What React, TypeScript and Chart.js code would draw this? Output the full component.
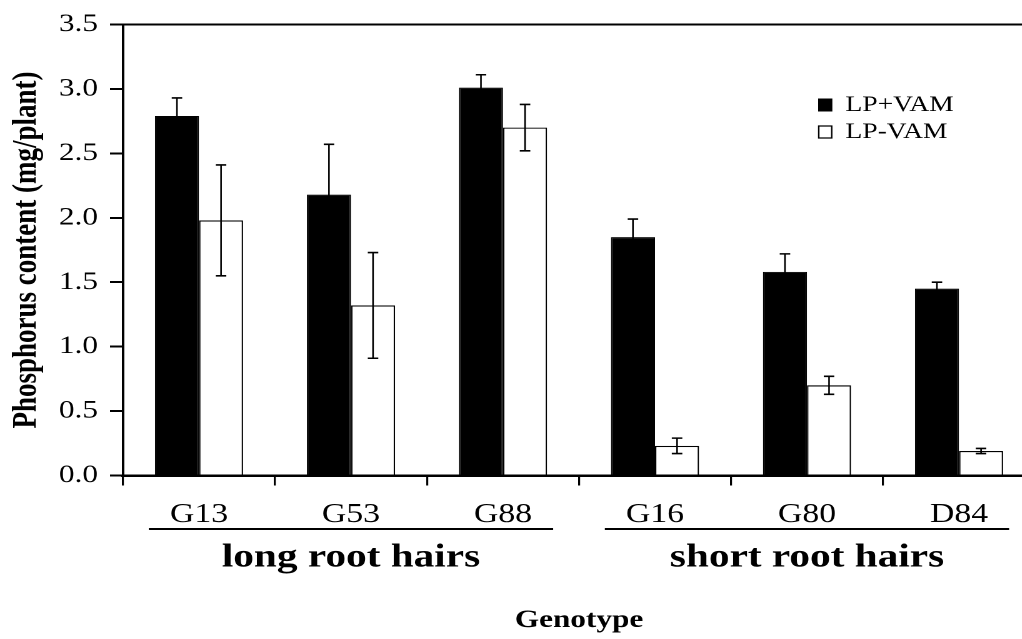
import React, { useEffect, useRef } from 'react';
import { Chart, registerables } from 'chart.js';

Chart.register(...registerables);

// ---- data ----
const genotypes = ['G13', 'G53', 'G88', 'G16', 'G80', 'D84'];
const groupLabels = ['long root hairs', 'short root hairs'];
const groupFirst = [0, 3];
const groupLast = [2, 5];
const seriesNames = ['LP+VAM', 'LP-VAM'];
const lpPlusVam = [2.79, 2.18, 3.01, 1.85, 1.58, 1.45];
const lpPlusVamErr = [0.14, 0.39, 0.1, 0.14, 0.14, 0.05];
const lpMinusVam = [1.98, 1.32, 2.7, 0.23, 0.7, 0.19];
const lpMinusVamErr = [0.43, 0.41, 0.18, 0.06, 0.07, 0.02];
const yMin = 0;
const yMax = 3.5;
const yStep = 0.5;

const SERIF = '"Liberation Serif", "Times New Roman", serif';
const SX = 1.25; // horizontal stretch of the original figure
const INNER_W = 840;
const H = 639;

const extras = {
  id: 'extras',
  afterLayout(chart: any) {
    const lg = chart.legend;
    if (lg) {
      const w = lg.width;
      const h = lg.height;
      lg.left = 650;
      lg.top = 89;
      lg.right = 650 + w;
      lg.bottom = 89 + h;
    }
  },
  afterDatasetsDraw(chart: any) {
    const ctx = chart.ctx;
    const ys = chart.scales.y;
    const errs = [lpPlusVamErr, lpMinusVamErr];
    ctx.save();
    ctx.strokeStyle = '#000';
    chart.data.datasets.forEach((ds: any, di: number) => {
      const meta = chart.getDatasetMeta(di);
      meta.data.forEach((bar: any, i: number) => {
        const v = ds.data[i];
        const e = errs[di][i];
        const x = bar.x;
        const yt = ys.getPixelForValue(v + e);
        const yb = ys.getPixelForValue(v - e);
        ctx.lineWidth = 1.3;
        ctx.beginPath();
        ctx.moveTo(x, yt);
        ctx.lineTo(x, yb);
        ctx.stroke();
        ctx.lineWidth = 1.6;
        ctx.beginPath();
        ctx.moveTo(x - 4.2, yt);
        ctx.lineTo(x + 4.2, yt);
        ctx.moveTo(x - 4.2, yb);
        ctx.lineTo(x + 4.2, yb);
        ctx.stroke();
      });
    });
    ctx.restore();
  },
  afterDraw(chart: any) {
    const ctx = chart.ctx;
    const xs = chart.scales.x;
    const ly = xs.bottom - 1.5;
    ctx.save();
    ctx.strokeStyle = '#000';
    ctx.lineWidth = 2;
    groupFirst.forEach((f, g) => {
      const a = xs.getPixelForValue(f - 0.5 + 0.17);
      const b = xs.getPixelForValue(groupLast[g] + 0.5 - 0.17);
      ctx.beginPath();
      ctx.moveTo(a, ly);
      ctx.lineTo(b, ly);
      ctx.stroke();
    });
    ctx.restore();
  },
};

export default function App() {
  const ref = useRef<HTMLCanvasElement | null>(null);

  useEffect(() => {
    if (!ref.current) return;
    const chart = new Chart(ref.current, {
      type: 'bar',
      data: {
        labels: genotypes,
        datasets: [
          {
            label: seriesNames[0],
            data: lpPlusVam,
            backgroundColor: '#000',
            borderColor: '#000',
            borderWidth: 1,
            categoryPercentage: 0.58,
            barPercentage: 1,
          },
          {
            label: seriesNames[1],
            data: lpMinusVam,
            backgroundColor: '#fff',
            borderColor: '#000',
            borderWidth: 1.2,
            categoryPercentage: 0.58,
            barPercentage: 1,
          },
        ],
      },
      options: {
        animation: false,
        responsive: false,
        maintainAspectRatio: false,
        devicePixelRatio: 2,
        events: [],
        layout: { padding: { top: 24.5, right: INNER_W - 1035 / SX, left: 0, bottom: 0 } },
        plugins: {
          tooltip: { enabled: false },
          legend: {
            position: 'chartArea',
            align: 'start',
            labels: {
              color: '#000',
              font: { family: SERIF, size: 22 },
              boxWidth: 10.4,
              boxHeight: 12,
              padding: 5,
            },
          },
        },
        scales: {
          x: {
            type: 'category',
            position: 'bottom',
            weight: 0,
            offset: true,
            grid: {
              display: true,
              offset: true,
              drawOnChartArea: false,
              drawTicks: true,
              tickLength: 10,
              color: '#000',
              lineWidth: 1.6,
            },
            border: { display: true, color: '#000', width: 2.5 },
            ticks: {
              color: '#000',
              font: { family: SERIF, size: 27, lineHeight: 1 },
              padding: 16,
              maxRotation: 0,
              autoSkip: false,
            },
            afterFit: (s: any) => {
              s.height = 55;
            },
          },
          group: {
            type: 'category',
            position: 'bottom',
            weight: 1,
            labels: groupLabels,
            offset: true,
            grid: { display: false, drawTicks: false },
            border: { display: false },
            ticks: {
              color: '#000',
              font: { family: SERIF, size: 33, weight: 'bold', lineHeight: 1 },
              padding: 11,
              maxRotation: 0,
              autoSkip: false,
            },
            title: {
              display: true,
              text: 'Genotype',
              color: '#000',
              font: { family: SERIF, size: 25, weight: 'bold', lineHeight: 1 },
              padding: { top: 0, bottom: 6 },
            },
            afterFit: (s: any) => {
              s.height = H - 475.5 - 55;
            },
          },
          top: {
            type: 'category',
            position: 'top',
            labels: [''],
            grid: { display: false, drawTicks: false },
            ticks: { display: false },
            border: { display: true, color: '#000', width: 2 },
            afterFit: (s: any) => {
              s.height = 0;
            },
          },
          y: {
            type: 'linear',
            position: 'left',
            min: yMin,
            max: yMax,
            grid: {
              display: true,
              drawOnChartArea: false,
              drawTicks: true,
              tickLength: 10.4,
              color: '#000',
              lineWidth: 2,
            },
            border: { display: true, color: '#000', width: 2 },
            ticks: {
              stepSize: yStep,
              color: '#000',
              font: { family: SERIF, size: 25, lineHeight: 1 },
              padding: 9.6,
              callback: (v: any) => Number(v).toFixed(1),
            },
            title: {
              display: true,
              text: 'Phosphorus content (mg/plant)',
              color: '#000',
              font: { family: SERIF, size: 27, weight: 'bold', lineHeight: 1 },
              padding: { top: 8, bottom: 0 },
            },
            afterFit: (s: any) => {
              s.width = 123 / SX;
            },
          },
        },
      },
      plugins: [extras],
    } as any);
    return () => chart.destroy();
  }, []);

  return (
    <div
      style={{
        position: 'fixed',
        left: 0,
        top: 0,
        width: 1022,
        height: H,
        overflow: 'hidden',
        background: '#fff',
      }}
    >
      <div
        style={{
          width: INNER_W,
          height: H,
          transform: `scaleX(${SX})`,
          transformOrigin: '0 0',
        }}
      >
        <canvas ref={ref} width={INNER_W} height={H} style={{ display: 'block' }} />
      </div>
    </div>
  );
}
